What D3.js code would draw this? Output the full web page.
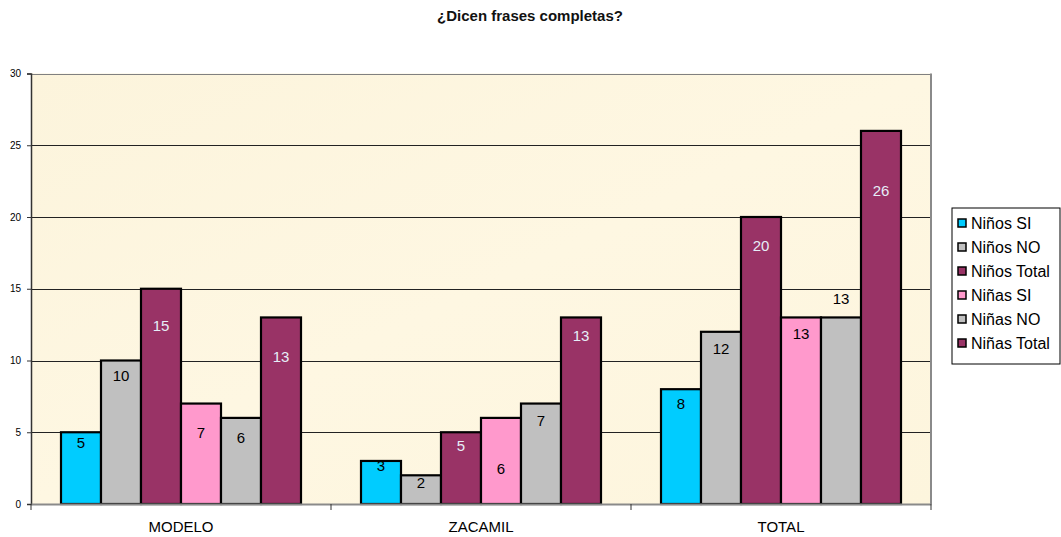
<!DOCTYPE html>
<html>
<head>
<meta charset="utf-8">
<script src="https://cdn.jsdelivr.net/npm/d3@7"></script>
<style>
  html, body { margin: 0; padding: 0; background: #fff; }
  svg { display: block; font-family: Arial, "Liberation Sans", sans-serif; }
</style>
</head>
<body>
<svg id="chart" width="1061" height="537"></svg>
<script>
// ---- data ----
const title = "¿Dicen frases completas?";
const categories = ["MODELO", "ZACAMIL", "TOTAL"];
const seriesNames = ["Niños SI", "Niños NO", "Niños Total", "Niñas SI", "Niñas NO", "Niñas Total"];
const ninosSi    = [5, 3, 8];
const ninosNo    = [10, 2, 12];
const ninosTotal = [15, 5, 20];
const ninasSi    = [7, 6, 13];
const ninasNo    = [6, 7, 13];
const ninasTotal = [13, 13, 26];
const yTicks = [0, 5, 10, 15, 20, 25, 30];

// styling (not data)
const seriesColors = ["#00CCFF", "#C0C0C0", "#993366", "#FF99CC", "#C0C0C0", "#993366"];
const labelColors  = ["#000", "#000", "#E6EEF8", "#000", "#000", "#E6EEF8"];
// label offset (px) from bar top to label centre, as placed in the original
const labelOffsets = [
  [10, 5, 15],
  [15, 7, 17],
  [37, 13, 29],
  [29, 51, 16],
  [20, 17, -19],
  [39, 18, 60]
];

const allSeries = [ninosSi, ninosNo, ninosTotal, ninasSi, ninasNo, ninasTotal];

const svg = d3.select("#chart");
const pLeft = 31, pRight = 931, pTop = 73.5, pBottom = 504;
const FONT = "Arial, 'Liberation Sans', sans-serif";

const x0 = d3.scaleBand().domain(categories).range([pLeft, pRight]).paddingInner(0).paddingOuter(0);
const x1 = d3.scaleBand().domain(seriesNames).range([0, x0.bandwidth()]).paddingInner(0).paddingOuter(0.75);
const y = d3.scaleLinear().domain([0, 30]).range([pBottom, pTop]);

// title
svg.append("text").attr("x", 530).attr("y", 21).attr("text-anchor", "middle")
  .attr("font-size", 15).attr("font-weight", "bold").attr("fill", "#111").text(title);

// plot area background
const defs = svg.append("defs");
const grad = defs.append("linearGradient").attr("id", "bg").attr("x1", 0).attr("y1", 0).attr("x2", 1).attr("y2", 1);
grad.append("stop").attr("offset", "0%").attr("stop-color", "#FCF4DC");
grad.append("stop").attr("offset", "50%").attr("stop-color", "#FEF7E2");
grad.append("stop").attr("offset", "100%").attr("stop-color", "#FDF5DD");
svg.append("rect").attr("x", pLeft).attr("y", pTop).attr("width", pRight - pLeft).attr("height", pBottom - pTop)
  .attr("fill", "url(#bg)");

// gridlines
svg.append("g").selectAll("line").data(yTicks.filter(d => d > 0)).join("line")
  .attr("x1", pLeft).attr("x2", pRight)
  .attr("y1", d => Math.round(y(d)) + 0.5).attr("y2", d => Math.round(y(d)) + 0.5)
  .attr("stroke", d => d === 30 ? "#808080" : "#222").attr("stroke-width", 1);

// right border
svg.append("line").attr("x1", pRight).attr("x2", pRight).attr("y1", pTop).attr("y2", pBottom)
  .attr("stroke", "#8a8a8a").attr("stroke-width", 2);

// y axis
const yAxis = d3.axisLeft(y).tickValues(yTicks).tickSize(4).tickPadding(6);
const gy = svg.append("g").attr("transform", `translate(${pLeft},0)`).call(yAxis);
gy.select(".domain").attr("stroke", "#333").attr("stroke-width", 1.5);
gy.selectAll(".tick line").attr("stroke", "#333");
gy.selectAll(".tick text").attr("font-size", 10).attr("font-family", FONT).attr("fill", "#000");

// bars
const groups = svg.append("g").selectAll("g").data(categories).join("g")
  .attr("transform", d => `translate(${x0(d)},0)`);

groups.each(function(cat, ci) {
  const g = d3.select(this);
  seriesNames.forEach((s, si) => {
    const v = allSeries[si][ci];
    g.append("rect")
      .attr("x", x1(s)).attr("y", y(v))
      .attr("width", x1.bandwidth()).attr("height", y(0) - y(v))
      .attr("fill", seriesColors[si]).attr("stroke", "#000").attr("stroke-width", 2.2);
    g.append("text")
      .attr("x", x1(s) + x1.bandwidth() / 2)
      .attr("y", y(v) + labelOffsets[si][ci])
      .attr("dy", "0.35em")
      .attr("text-anchor", "middle").attr("font-size", 15)
      .attr("fill", labelColors[si]).text(v);
  });
});

// x axis
const xAxis = d3.axisBottom(x0).tickSize(0).tickPadding(17);
const gx = svg.append("g").attr("transform", `translate(0,${pBottom})`).call(xAxis);
gx.select(".domain").attr("stroke", "#8a8a8a").attr("stroke-width", 2);
gx.selectAll(".tick text").attr("font-size", 15).attr("font-family", FONT).attr("fill", "#000");
// category separator ticks
const sepTicks = categories.map(c => x0(c)).concat([pRight]);
svg.append("g").selectAll("line").data(sepTicks).join("line")
  .attr("x1", d => d).attr("x2", d => d).attr("y1", pBottom).attr("y2", pBottom + 6)
  .attr("stroke", "#333").attr("stroke-width", 1);

// legend
const lg = svg.append("g").attr("transform", "translate(952,208)");
lg.append("rect").attr("x", 0).attr("y", 0).attr("width", 108).attr("height", 156)
  .attr("fill", "#fff").attr("stroke", "#000").attr("stroke-width", 1);
const items = lg.selectAll("g").data(seriesNames).join("g")
  .attr("transform", (d, i) => `translate(0,${15 + i * 24})`);
items.append("rect").attr("x", 6).attr("y", -4).attr("width", 8).attr("height", 8)
  .attr("fill", (d, i) => seriesColors[i]).attr("stroke", "#000").attr("stroke-width", 1.5);
items.append("text").attr("x", 19).attr("y", 0).attr("dy", "0.35em")
  .attr("font-size", 16).attr("fill", "#000").text(d => d);
</script>
</body>
</html>
